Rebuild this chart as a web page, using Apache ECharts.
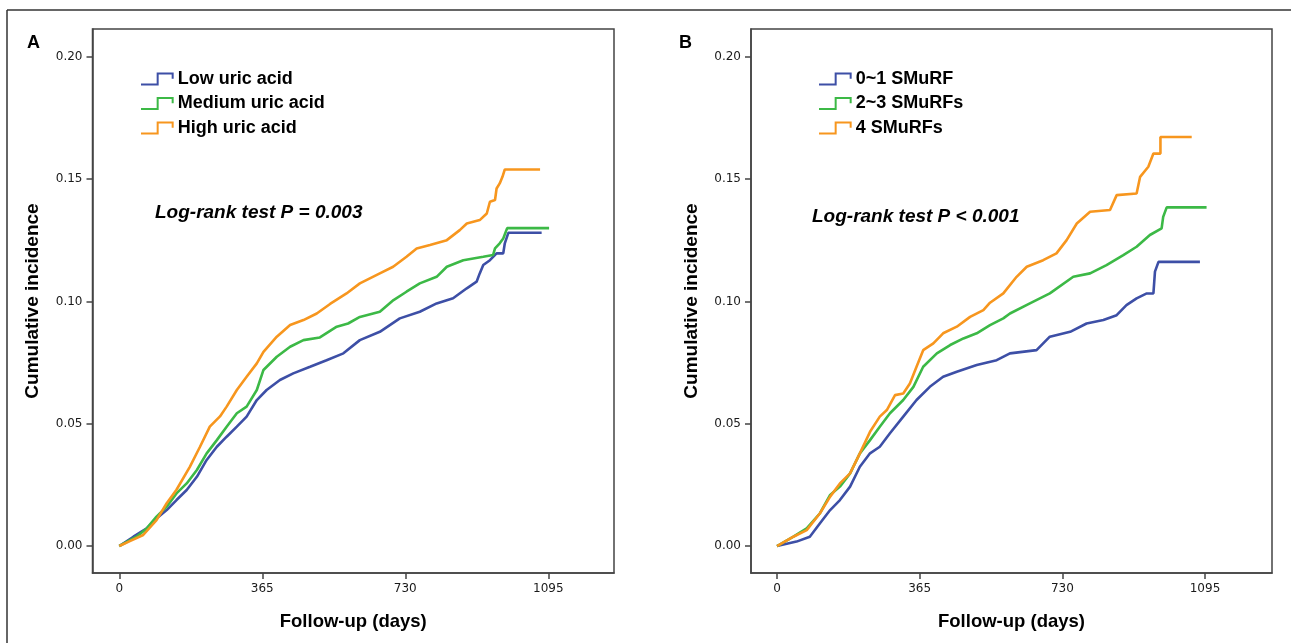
<!DOCTYPE html>
<html>
<head>
<meta charset="utf-8">
<script src="https://cdn.jsdelivr.net/npm/echarts@6/dist/echarts.min.js"></script>
<style>
html,body{margin:0;padding:0;background:#fff;}
#chart{width:1291px;height:643px;}
</style>
</head>
<body>
<div id="chart"></div>
<script>
// ---------- data ----------
const xTicks = [0, 365, 730, 1095];
const yTicks = [0, 0.05, 0.10, 0.15, 0.20];

const namesA = ['Low uric acid', 'Medium uric acid', 'High uric acid'];
const namesB = ['0~1 SMuRF', '2~3 SMuRFs', '4 SMuRFs'];

// Panel A: Low uric acid
const lowDays = [0,36,70,95,121,146,172,198,223,249,274,300,325,351,376,410,444,487,529,572,614,665,716,767,810,852,887,912,920,929,946,963,980,984,993,1078];
const lowInc  = [0,0.0038,0.0072,0.0113,0.0147,0.0188,0.0229,0.0283,0.0352,0.0406,0.0447,0.0488,0.0529,0.0597,0.0638,0.0679,0.0706,0.0733,0.0760,0.0788,0.0842,0.0876,0.0931,0.0958,0.0992,0.1013,0.1054,0.1081,0.1115,0.1149,0.1169,0.1197,0.1197,0.1238,0.1281,0.1281];
// Panel A: Medium uric acid
const medDays = [0,44,70,95,121,146,172,198,223,249,274,300,325,351,368,402,436,470,512,555,584,614,665,700,733,767,810,836,878,929,954,959,971,980,990,1097];
const medInc  = [0,0.0038,0.0072,0.0120,0.0161,0.0215,0.0256,0.0311,0.0379,0.0433,0.0488,0.0543,0.0570,0.0638,0.0720,0.0774,0.0815,0.0842,0.0853,0.0897,0.0910,0.0937,0.0958,0.1006,0.1040,0.1074,0.1101,0.1142,0.1169,0.1183,0.1190,0.1217,0.1238,0.1258,0.1300,0.1300];
// Panel A: High uric acid
const highDays = [0,27,61,95,121,146,180,206,231,257,274,300,325,351,368,402,436,470,504,538,580,614,665,699,733,759,793,836,869,887,920,938,946,959,963,971,978,984,1074];
const highInc  = [0,0.0020,0.0045,0.0106,0.0175,0.0230,0.0324,0.0406,0.0488,0.0530,0.0570,0.0638,0.0692,0.0747,0.0794,0.0856,0.0904,0.0924,0.0951,0.0990,0.1033,0.1074,0.1115,0.1142,0.1183,0.1217,0.1231,0.1251,0.1292,0.1319,0.1333,0.1360,0.1408,0.1415,0.1462,0.1483,0.1510,0.1540,0.1540];

// Panel B: 0~1 SMuRF
const s01Days = [0,50,84,110,136,161,187,212,238,263,289,323,357,391,425,460,511,562,596,664,698,750,792,835,869,894,920,946,963,967,976,1082];
const s01Inc  = [0,0.0018,0.0038,0.0093,0.0147,0.0188,0.0243,0.0324,0.0379,0.0406,0.0461,0.0529,0.0597,0.0651,0.0692,0.0713,0.0740,0.0760,0.0788,0.0801,0.0856,0.0876,0.0910,0.0924,0.0944,0.0985,0.1013,0.1033,0.1033,0.1122,0.1162,0.1162];
// Panel B: 2~3 SMuRFs
const s23Days = [0,42,76,110,136,161,187,212,238,263,289,323,349,374,409,443,477,511,545,579,596,647,698,758,801,843,886,920,954,984,988,997,1099];
const s23Inc  = [0,0.0038,0.0072,0.0134,0.0209,0.0243,0.0297,0.0379,0.0433,0.0488,0.0543,0.0597,0.0651,0.0733,0.0788,0.0822,0.0849,0.0870,0.0903,0.0931,0.0951,0.0992,0.1033,0.1101,0.1115,0.1149,0.1190,0.1224,0.1272,0.1299,0.1346,0.1385,0.1385];
// Panel B: 4 SMuRFs
const s4Days = [0,42,76,110,136,161,187,212,238,263,281,302,323,340,357,374,400,425,460,494,528,545,579,613,639,681,715,741,767,801,852,869,920,929,950,963,981,981,1061];
const s4Inc  = [0,0.0038,0.0065,0.0134,0.0202,0.0256,0.0297,0.0379,0.0467,0.0529,0.0556,0.0617,0.0624,0.0665,0.0733,0.0801,0.0829,0.0870,0.0897,0.0937,0.0965,0.0995,0.1033,0.1101,0.1142,0.1169,0.1197,0.1251,0.1319,0.1367,0.1374,0.1435,0.1442,0.1510,0.1551,0.1605,0.1605,0.1673,0.1673];

const pValueA = 'Log-rank test P = 0.003';
const pValueB = 'Log-rank test P < 0.001';
// ---------------------------------------------------

const BLUE = '#3d4fa6', GREEN = '#3cb946', ORANGE = '#f7961e';
const colors = [BLUE, GREEN, ORANGE];
const zip = (xs, ys) => xs.map((x, i) => [x, ys[i]]);

const iconPath = 'path://M0,33L50,33L50,0L95,0L95,16';
const BOLD = '"Liberation Sans", Arial, sans-serif';
const TICKFONT = '"DejaVu Sans", sans-serif';

function xAxisCfg(idx, min, max) {
  return {
    type: 'value', gridIndex: idx, min: min, max: max,
    name: 'Follow-up (days)', nameLocation: 'middle', nameGap: 39,
    nameTextStyle: {fontFamily: BOLD, fontWeight: 'bold', fontSize: 18.5, color: '#000'},
    axisLine: {onZero: false, lineStyle: {color: '#444', width: 1.5}},
    axisTick: {customValues: xTicks, length: 6, lineStyle: {color: '#444', width: 1.5}},
    axisLabel: {customValues: xTicks, margin: 10, fontFamily: TICKFONT, fontSize: 12, color: '#1a1a1a',
                formatter: v => String(Math.round(v))},
    splitLine: {show: false}
  };
}
function yAxisCfg(idx) {
  return {
    type: 'value', gridIndex: idx, min: -0.01104, max: 0.21145,
    name: 'Cumulative incidence', nameLocation: 'middle', nameGap: 50,
    nameTextStyle: {fontFamily: BOLD, fontWeight: 'bold', fontSize: 19, color: '#000'},
    axisLine: {onZero: false, lineStyle: {color: '#444', width: 1.5}},
    axisTick: {customValues: yTicks, length: 6, lineStyle: {color: '#444', width: 1.5}},
    axisLabel: {customValues: yTicks, margin: 10, fontFamily: TICKFONT, fontSize: 12, color: '#1a1a1a',
                formatter: v => v.toFixed(2)},
    splitLine: {show: false}
  };
}
function legendCfg(names, left) {
  return {
    left: left, top: 69, padding: 0, orient: 'vertical', itemWidth: 32, itemHeight: 11, itemGap: 4.5,
    selectedMode: false,
    textStyle: {fontFamily: BOLD, fontWeight: 'bold', fontSize: 18, color: '#000', lineHeight: 20},
    data: names.map((n, i) => ({
      name: n, icon: iconPath,
      itemStyle: {color: 'rgba(0,0,0,0)', borderColor: colors[i], borderWidth: 2}
    }))
  };
}
function lineSeries(name, data, color, idx) {
  return {
    type: 'line', name: name, data: data, xAxisIndex: idx, yAxisIndex: idx,
    showSymbol: false, symbol: 'none', color: color,
    lineStyle: {color: color, width: 2.6}, z: 3
  };
}

const chart = echarts.init(document.getElementById('chart'), null, {renderer: 'canvas'});
chart.setOption({
  animation: false,
  backgroundColor: '#fff',
  grid: [
    {left: 92.5, top: 29, width: 521.5, height: 544, show: true, borderColor: '#444', borderWidth: 1.5, backgroundColor: 'transparent'},
    {left: 751, top: 29, width: 521, height: 544, show: true, borderColor: '#444', borderWidth: 1.5, backgroundColor: 'transparent'}
  ],
  xAxis: [xAxisCfg(0, -68.4, 1262.7), xAxisCfg(1, -66.5, 1266.4)],
  yAxis: [yAxisCfg(0), yAxisCfg(1)],
  legend: [legendCfg(namesA, 140), legendCfg(namesB, 818)],
  series: [
    lineSeries(namesA[0], zip(lowDays, lowInc), BLUE, 0),
    lineSeries(namesA[1], zip(medDays, medInc), GREEN, 0),
    lineSeries(namesA[2], zip(highDays, highInc), ORANGE, 0),
    lineSeries(namesB[0], zip(s01Days, s01Inc), BLUE, 1),
    lineSeries(namesB[1], zip(s23Days, s23Inc), GREEN, 1),
    lineSeries(namesB[2], zip(s4Days, s4Inc), ORANGE, 1)
  ],
  graphic: [
    {type: 'line', shape: {x1: 7, y1: 10, x2: 1291, y2: 10}, style: {stroke: '#333', lineWidth: 1.5}},
    {type: 'line', shape: {x1: 7, y1: 10, x2: 7, y2: 643}, style: {stroke: '#333', lineWidth: 1.5}},
    {type: 'text', left: 27, top: 34, style: {text: 'A', fontFamily: BOLD, fontWeight: 'bold', fontSize: 18, fill: '#000'}},
    {type: 'text', left: 679, top: 34, style: {text: 'B', fontFamily: BOLD, fontWeight: 'bold', fontSize: 18, fill: '#000'}},
    {type: 'text', left: 155, top: 203, style: {text: pValueA, fontFamily: BOLD, fontWeight: 'bold', fontStyle: 'italic', fontSize: 19, fill: '#000'}},
    {type: 'text', left: 812, top: 207, style: {text: pValueB, fontFamily: BOLD, fontWeight: 'bold', fontStyle: 'italic', fontSize: 19, fill: '#000'}}
  ]
});
</script>
</body>
</html>
